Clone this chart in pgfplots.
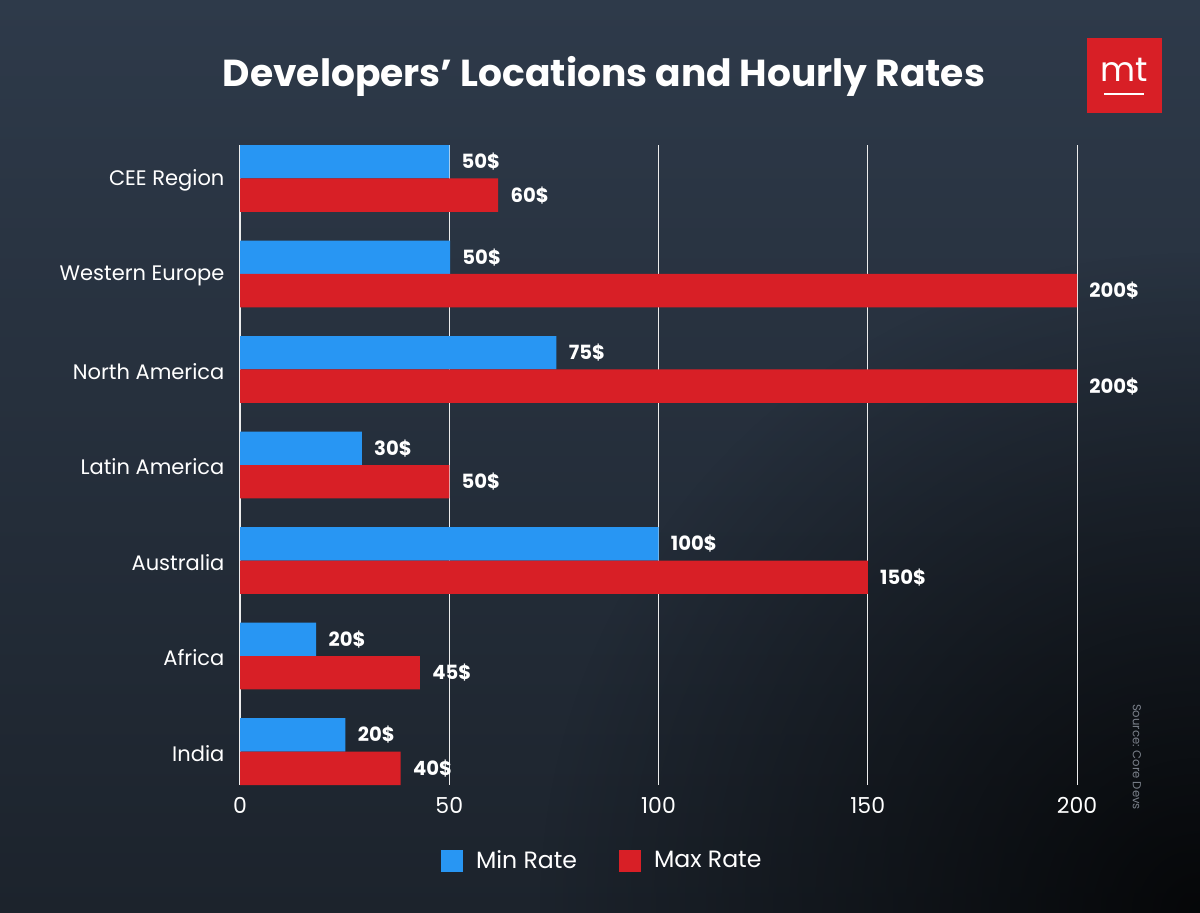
\documentclass[border=0pt]{standalone}
\usepackage{pgfplots}
\pgfplotsset{compat=1.18}
\usepackage{fontspec}
\setmainfont{Poppins}
\usetikzlibrary{fadings}
\definecolor{bgtop}{HTML}{2E3A4A}
\definecolor{bgbot}{HTML}{1C232C}
\definecolor{minblue}{HTML}{2896F3}
\definecolor{maxred}{HTML}{D81F26}
\definecolor{srcgray}{HTML}{7A808A}
\tikzfading[name=cornerfade, inner color=transparent!0, outer color=transparent!100]

\begin{document}
\begin{tikzpicture}
% background, 1px = 0.5pt
\shade[top color=bgtop, bottom color=bgbot] (0,0) rectangle (600pt,456pt);
\fill[black, opacity=0.8, path fading=cornerfade] (600pt,0pt) circle (330pt);

\begin{scope}[shift={(0pt,456pt)}, x=0.5pt, y=-0.5pt]
  \node[text=white, font=\bfseries\fontsize{18.8}{22}\selectfont] at (604,76) {Developers’ Locations and Hourly Rates};
  \fill[maxred] (1087,38) rectangle (1162,113);
  \node[text=white, font=\fontsize{17}{17}\selectfont] at (1124,70) {mt};
  \draw[white, line width=1pt] (1104,94) -- (1144,94);
  \node[rotate=-90, text=srcgray, font=\fontsize{5.8}{6}\selectfont] at (1137,757) {Source: Core Devs};
\end{scope}

\begin{axis}[
  at={(120pt,63.5pt)}, anchor=south west,
  width=418.5pt, height=320pt, scale only axis,
  xbar, bar width=0.35,
  xmin=0, xmax=200, ymin=-0.35, ymax=6.35,
  y dir=reverse,
  ytick={0,...,6},
  yticklabels={CEE Region,Western Europe,North America,Latin America,Australia,Africa,India},
  xtick={0,50,100,150,200},
  /pgf/number format/assume math mode=true,
  axis line style={draw=none},
  tick style={draw=none},
  xmajorgrids,
  grid style={white!85!gray, line width=0.5pt},
  ticklabel style={text=white},
  x tick label style={font=\fontsize{11}{12}\selectfont, yshift=-2.5pt},
  y tick label style={font=\fontsize{10.5}{12}\selectfont, xshift=0pt, yshift=-1pt},
  point meta=explicit symbolic,
  nodes near coords,
  nodes near coords style={text=white, font=\bfseries\fontsize{9.8}{12}\selectfont, anchor=west, inner sep=0pt, xshift=6pt},
  clip=false,
  legend style={at={(0.434,-0.119)}, anchor=center, draw=none, fill=none,
    text=white, font=\fontsize{11.8}{13}\selectfont,
    /tikz/every odd column/.append style={column sep=4.5pt},
    /tikz/every even column/.append style={column sep=19pt}},
  legend columns=2,
  legend image code/.code={\fill[#1] (0pt,-5.5pt) rectangle (11pt,5.5pt);},
]
\addplot[fill=minblue, draw=none, bar shift=-0.175] coordinates {
  (50,0) [50\$] (50.2,1) [50\$] (75.6,2) [75\$] (29.1,3) [30\$]
  (100,4) [100\$] (18.2,5) [20\$] (25.2,6) [20\$]
};
\addlegendentry{Min Rate}
\addplot[fill=maxred, draw=none, bar shift=0.175] coordinates {
  (61.7,0) [60\$] (200,1) [200\$] (200,2) [200\$] (50,3) [50\$]
  (150,4) [150\$] (43,5) [45\$] (38.4,6) [40\$]
};
\addlegendentry{Max Rate}
\end{axis}

\pgfresetboundingbox
\useasboundingbox (0,0) rectangle (600pt,456pt);
\end{tikzpicture}
\end{document}
